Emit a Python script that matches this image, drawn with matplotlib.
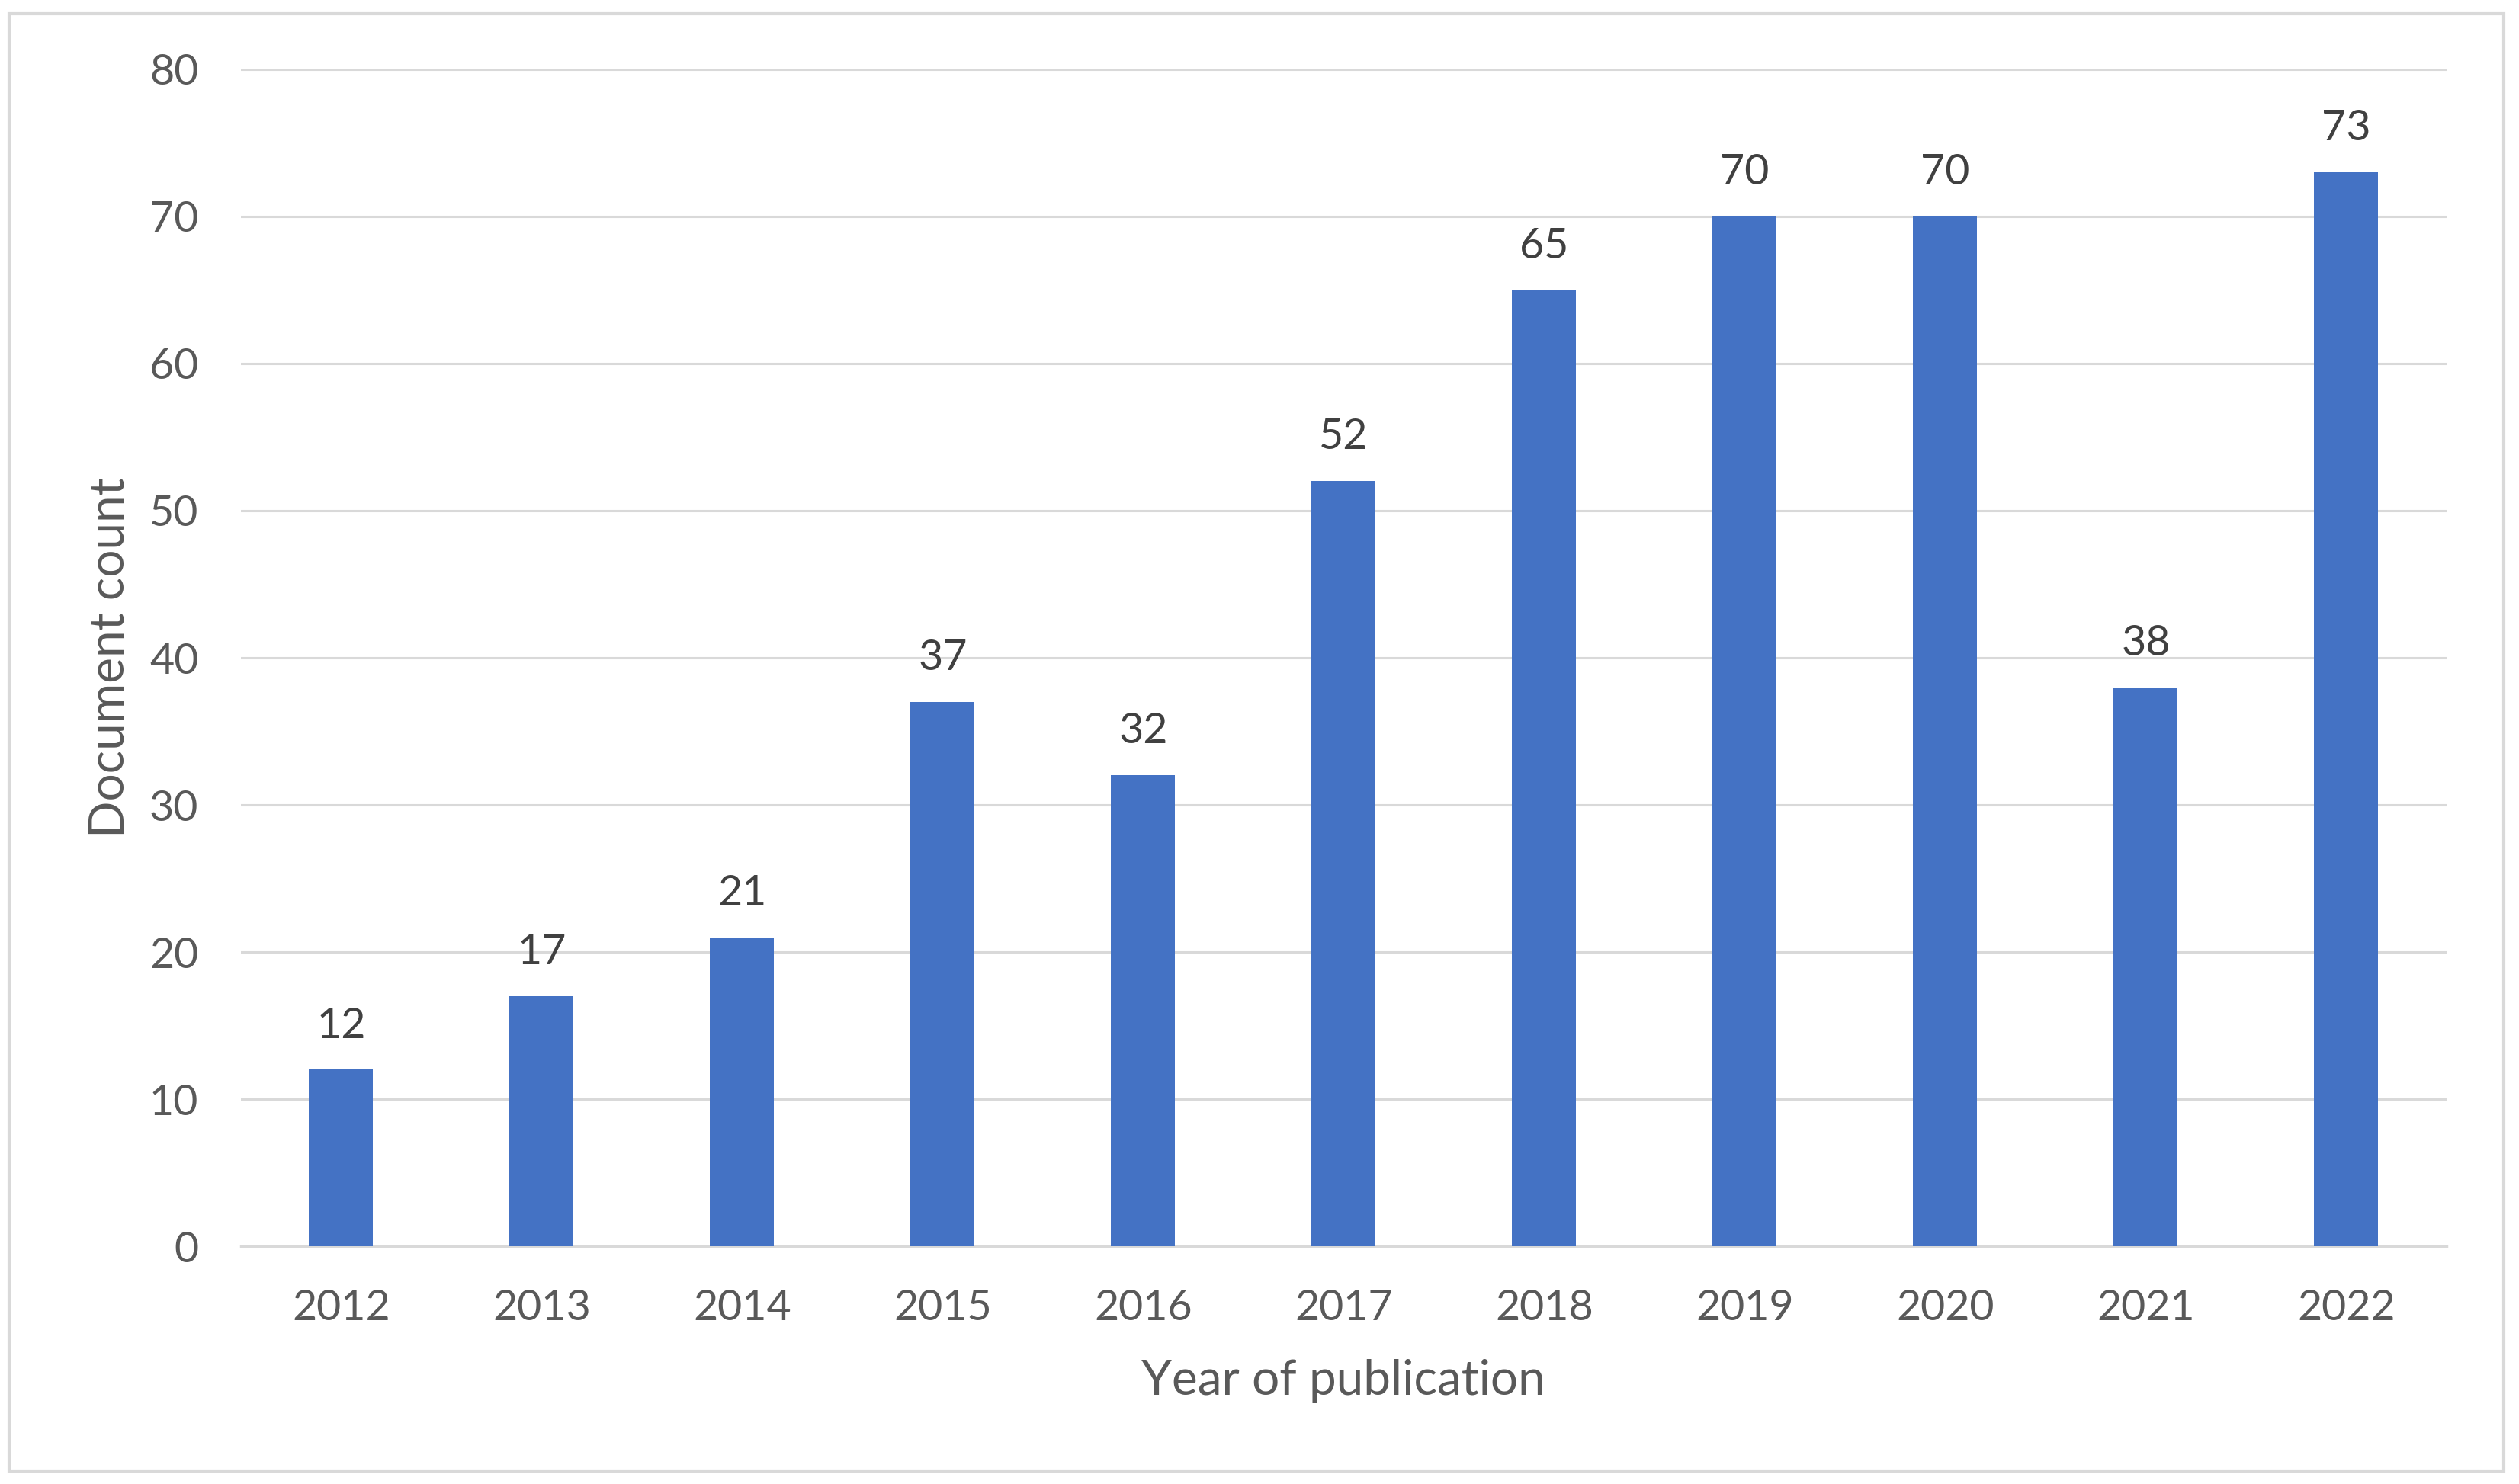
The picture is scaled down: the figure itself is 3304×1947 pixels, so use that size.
import matplotlib
matplotlib.use('Agg')

import numpy as np
import matplotlib.pyplot as plt
from matplotlib.patches import Rectangle

# data
years = ['2012', '2013', '2014', '2015', '2016', '2017', '2018', '2019', '2020', '2021', '2022']
doc_counts = [12, 17, 21, 37, 32, 52, 65, 70, 70, 38, 73]
y_ticks = [0, 10, 20, 30, 40, 50, 60, 70, 80]

bar_color = '#4472C4'
grid_color = '#D9D9D9'
text_color = '#595959'

plt.rcParams['font.family'] = ['Lato', 'DejaVu Sans']

fig = plt.figure(figsize=(33.04, 19.47), dpi=100)
ax = fig.add_axes([0.0956, 0.1602, 0.8756, 0.7931])

x = np.arange(len(years))
bars = ax.bar(x, doc_counts, width=0.32, color=bar_color, zorder=3)

for xi, v in zip(x, doc_counts):
    ax.annotate(str(v), (xi, v), xytext=(0, 23), textcoords='offset points',
                ha='center', va='bottom', fontsize=40, color='#404040')

ax.set_xlim(-0.5, len(years) - 0.5)
ax.set_ylim(0, 80)
ax.set_yticks(y_ticks)
ax.set_xticks(x)
ax.set_xticklabels(years)

ax.grid(axis='y', color=grid_color, linewidth=2.2, zorder=0)
for s in ['top', 'right', 'left']:
    ax.spines[s].set_visible(False)
ax.spines['bottom'].set_color(grid_color)
ax.spines['bottom'].set_linewidth(2.5)

ax.tick_params(axis='both', length=0, labelsize=40, labelcolor=text_color)
ax.tick_params(axis='y', pad=40)
ax.tick_params(axis='x', pad=40)

ax.set_xlabel('Year of publication', fontsize=46, color=text_color, labelpad=30)
ax.set_ylabel('Document count', fontsize=46, color=text_color, labelpad=16)

# light frame round the whole chart
fig.patches.append(Rectangle((0.0036, 0.0087), 0.9903, 0.9820, transform=fig.transFigure,
                             fill=False, edgecolor=grid_color, linewidth=3))

fig.savefig('out.png', dpi=100)
